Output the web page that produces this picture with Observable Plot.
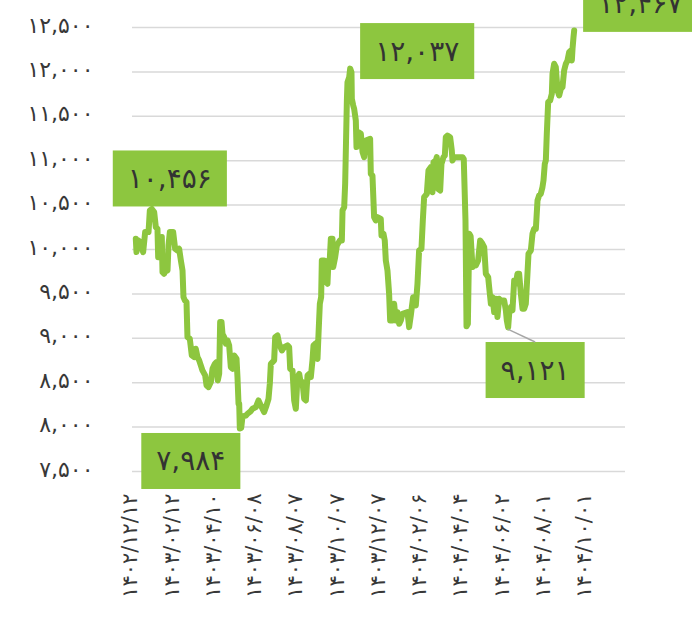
<!DOCTYPE html>
<html><head><meta charset="utf-8">
<script src="https://cdn.jsdelivr.net/npm/d3@7"></script>
<script src="https://cdn.jsdelivr.net/npm/@observablehq/plot@0.6"></script>
<style>
body{margin:0;background:#fff}
svg{font-family:"DejaVu Sans",sans-serif}
</style>
</head><body><div id="chart"></div>
<script>
// day offsets counted from 1402/12/12 (Jalali)
const days = [4.8,5.8,8.7,12.1,15.5,18.4,23.3,25.2,28.1,31.5,33.9,36.3,37.3,40.2,42.6,43.6,46,48.4,50.9,52.3,54.3,59.1,62,65.4,67.8,70.3,72.7,74.1,76.1,78.5,79.9,83.3,86.2,89.6,92,94.5,96.9,99.3,101.7,105.6,107.6,110.5,113.9,116.3,119.7,122.1,124,126,127.4,129.4,130.8,133.2,135.7,138.1,140.5,142.9,145.3,147.8,151.2,152.6,154.1,155.1,156,158,159.9,164.7,167.2,172,174.4,179.3,183.2,186.5,191.4,194.8,197.7,199.6,201.1,205.9,207.4,210.8,213.2,217.1,220.5,225.3,227.7,229.2,232.6,235,237.4,239.8,242.3,244.7,247.1,249.5,252,254.4,256.8,259.2,261.6,263.1,265.5,266.5,268.9,270.4,272.3,274.2,275.2,278.6,281,283.4,284.9,286.8,288.3,290.7,291.7,294.6,297,301.4,304.3,305.3,307.7,309.1,310.1,311.6,312.5,315,316.4,318.3,318.8,320.8,322.2,324.6,325.6,328.5,331.9,334.3,336.7,339.1,345.4,346.4,348.8,351.2,353.6,356.1,360.9,361.9,364.8,366.7,368.2,370.6,373,374.5,377.9,380.3,382.7,385.1,387.6,390,392.4,399.7,402.1,404.5,407.9,411.8,414.2,416.6,420,422,423.9,427.8,430.2,433.6,436,437.5,440.9,442.3,444.2,447.2,449.1,452,454,455.4,457.8,461.7,464.1,465.1,467.5,479.6,481.5,484,485.5,487.5,489.5,491.5,493,494.2,496.6,499,502.4,505.3,508.7,511.2,513.6,517,518.4,520.9,523.3,525.7,528.1,530.5,533,535.4,540.2,542.7,544.1,546,547.5,549.9,552.3,554.8,557.2,559.6,562,564.5,566.9,569.3,571.7,574.1,575.6,579,581.4,583.8,586.3,588.7,591.1,593.5,595.9,597.4,599.3,600.8,602.2,604.2,607.1,609.5,610.5,612.9,615.3,617.8,620.2,622.6,625,627.4,629.9,632.3,634.7,637.1,638.6,639.6,641,642];
const prices = [10121,9971,10102,10065,9971,10196,10196,10440,10456,10421,10252,10233,9914,9914,10140,9745,9727,9783,9764,10046,10196,10196,10008,9989,10008,9877,9764,9464,9427,9408,9014,8995,8807,8788,8882,8788,8751,8695,8638,8582,8469,8451,8507,8657,8713,8732,8526,8601,9183,9183,9051,9014,8939,8976,8920,8676,8657,8807,8770,8563,8263,8263,7984,7990,8120,8130,8150,8180,8206,8225,8300,8244,8169,8244,8319,8488,8713,8751,9013,9032,8938,8863,8901,8920,8901,8657,8638,8300,8206,8563,8600,8488,8507,8319,8300,8582,8600,8563,8751,8920,8938,8788,8769,9051,9389,9464,9877,9877,9651,9614,9877,9895,10121,10121,9802,9914,10045,10102,10102,10440,10477,10740,11115,11678,11884,11941,12037,11997,11697,11622,11584,11453,11153,11322,11303,11100,11040,11227,11246,10852,10833,10364,10327,10364,10345,10158,10176,10101,9876,9764,9501,9201,9201,9388,9201,9294,9163,9201,9276,9294,9126,9257,9463,9370,9613,9989,10008,10327,10589,10627,10889,10927,10646,10983,11002,11040,10683,10664,10964,11040,11058,11265,11284,11265,11115,11002,11040,11040,11020,10327,9135,9164,10177,10150,9952,9802,9839,9821,9877,10102,10064,10027,9727,9689,9577,9389,9464,9295,9445,9239,9445,9427,9427,9314,9201,9121,9276,9351,9314,9652,9614,9727,9727,9502,9333,9333,9389,9727,9952,9989,10177,10233,10233,10552,10609,10627,10702,10778,10965,11003,11303,11660,11678,11753,11979,12091,12054,11791,11735,11810,11828,12016,12091,12129,12222,12241,12129,12260,12391,12467];
const tickLabels = ["1402/12/12","1403/02/12","1403/04/10","1403/06/08","1403/08/07","1403/10/07","1403/12/07","1404/02/06","1404/04/04","1404/06/02","1404/08/01","1404/10/01"];
const yTicks = [7500,8000,8500,9000,9500,10000,10500,11000,11500,12000,12500];
const annoDays = [28.1, 316.4, 156, 546, 642];
const annoValues = [10456, 12037, 7984, 9121, 12467];
const annoOffsets = [[18,-30],[67,-17],[-49,33],[27,43],[66,-26]];

const green = "#8DC63F";
const fa = s => String(s).replace(/\d/g, d => "۰۱۲۳۴۵۶۷۸۹"[d]);
const leap = y => [1399,1403,1408].includes(y);
function jNum(s){
  const [y,m,d] = s.split("/").map(Number);
  let n = 0;
  for (let yy = 1400; yy < y; yy++) n += leap(yy) ? 366 : 365;
  n += (m <= 7 ? (m-1)*31 : 186 + (m-7)*30) + d;
  return n;
}
const base = jNum(tickLabels[0]);
const tickDays = tickLabels.map(s => jNum(s) - base);
const labelOf = new Map(tickDays.map((d,i) => [d, fa(tickLabels[i])]));

const data = days.map((d,i) => ({day: d, price: prices[i]}));
const annos = annoDays.map((d,i) => ({day: d, price: annoValues[i], label: fa(d3.format(",")(annoValues[i])), off: annoOffsets[i]}));

const chart = Plot.plot({
  width: 692, height: 619,
  marginLeft: 132, marginRight: 67, marginTop: 27, marginBottom: 148,
  style: {color: "#383838", background: "#fff"},
  x: {domain: [0, 716.6]},
  y: {domain: [7500, 12500]},
  marks: [
    Plot.ruleY(yTicks, {stroke: "#d9d9d9", strokeWidth: 1.5}),
    Plot.axisY({ticks: yTicks, tickFormat: v => fa(d3.format(",")(v)), tickSize: 0, tickPadding: 39, fontSize: 22, dy: -2, label: null}),
    Plot.axisX({ticks: tickDays, tickFormat: d => labelOf.get(d), tickRotate: -90, tickSize: 0, tickPadding: 22, fontSize: 21, dx: -2, label: null}),
    Plot.line(data, {x: "day", y: "price", stroke: green, strokeWidth: 6, strokeLinejoin: "round", strokeLinecap: "round"}),
    ...annos.map(a => Plot.text([a], {x: "day", y: "price", text: "label", dx: a.off[0], dy: a.off[1], fontSize: 28, fill: "#333", className: "anno"}))
  ]
});
document.getElementById("chart").append(chart);

// background boxes behind annotation labels
const ns = "http://www.w3.org/2000/svg";
const boxes = [];
chart.querySelectorAll("g.anno text").forEach(t => {
  const b = t.getBBox();
  const w = b.width + 30, h = 56;
  const cx = b.x + b.width/2, cy = b.y + b.height/2;
  const r = document.createElementNS(ns, "rect");
  r.setAttribute("x", cx - w/2); r.setAttribute("y", cy - h/2);
  r.setAttribute("width", w); r.setAttribute("height", h);
  r.setAttribute("fill", green);
  if (t.getAttribute("transform")) r.setAttribute("transform", t.getAttribute("transform"));
  t.parentNode.insertBefore(r, t);
  const m = t.getCTM();
  const p = chart.createSVGPoint(); p.x = cx; p.y = cy - h/2;
  boxes.push(p.matrixTransform(m));
});
// leader line for the 9,121 label
const sx = chart.scale("x"), sy = chart.scale("y");
const li = 3;
const ln = document.createElementNS(ns, "line");
ln.setAttribute("x1", sx.apply(annoDays[li])); ln.setAttribute("y1", sy.apply(annoValues[li]) + 2);
ln.setAttribute("x2", boxes[li].x); ln.setAttribute("y2", boxes[li].y);
ln.setAttribute("stroke", "#a6a6a6"); ln.setAttribute("stroke-width", 1.5);
chart.appendChild(ln);
</script>
</body></html>
